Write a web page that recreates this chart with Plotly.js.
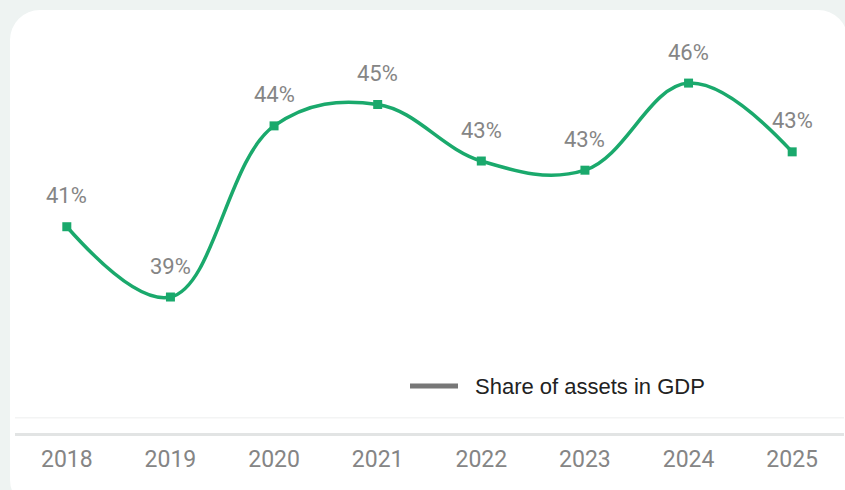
<!DOCTYPE html>
<html>
<head>
<meta charset="utf-8">
<script src="https://cdn.plot.ly/plotly-3.0.1.min.js"></script>
<style>
  html, body { margin: 0; padding: 0; background: #eef3f2; width: 845px; height: 490px; overflow: hidden; }
  #card { position: absolute; left: 10px; top: 10px; width: 838px; height: 500px; background: #ffffff; border-radius: 30px; }
  #chart { position: absolute; left: 0; top: 0; width: 845px; height: 490px; }
</style>
</head>
<body>
<div id="card"></div>
<div id="chart"></div>
<script>
// Data
const years = [2018, 2019, 2020, 2021, 2022, 2023, 2024, 2025];
const shareValues = [41.3, 39.0, 44.6, 45.3, 43.45, 43.15, 46.0, 43.75];
const shareLabels = ["41%", "39%", "44%", "45%", "43%", "43%", "46%", "43%"];
const seriesName = "Share of assets in GDP";

const green = "#1aa96c";

const mainTrace = {
  type: "scatter",
  mode: "lines+markers",
  x: years,
  y: shareValues,
  line: { shape: "spline", smoothing: 1.1, color: green, width: 3.5 },
  marker: { symbol: "square", size: 9, color: green },
  showlegend: false,
  hoverinfo: "skip"
};

const labelAnnotations = years.map((yr, i) => ({
  x: yr, y: shareValues[i], xref: "x", yref: "y",
  text: shareLabels[i], showarrow: false, yshift: 31,
  font: { family: "Roboto, Inter, 'Liberation Sans', sans-serif", size: 22, color: "#858585" }
}));

const layout = {
  width: 845, height: 490,
  paper_bgcolor: "rgba(0,0,0,0)",
  plot_bgcolor: "rgba(0,0,0,0)",
  margin: { l: 15, r: 1, t: 40, b: 57 },
  showlegend: false,
  xaxis: {
    type: "linear",
    range: [2017.5, 2025.5],
    tickvals: years,
    ticktext: years.map(String),
    showgrid: false, zeroline: false,
    showline: true, linecolor: "#e2e4e4", linewidth: 3,
    ticks: "", ticklabelstandoff: 3,
    tickfont: { family: "Roboto, Inter, 'Liberation Sans', sans-serif", size: 23, color: "#858585" },
    fixedrange: true
  },
  yaxis: {
    range: [34.55, 47.41],
    showgrid: false, zeroline: false, showline: false,
    showticklabels: false, ticks: "",
    fixedrange: true
  },
  shapes: [
    { type: "line", xref: "paper", yref: "y", x0: 0, x1: 1, y0: 35.05, y1: 35.05,
      line: { color: "#f3f4f4", width: 1.5 } },
    { type: "line", xref: "paper", yref: "paper", x0: 395 / 829, x1: 443 / 829,
      y0: (433 - 386) / 393, y1: (433 - 386) / 393,
      line: { color: "#777777", width: 5 } }
  ],
  annotations: labelAnnotations.concat([
    { xref: "paper", yref: "paper", x: 458 / 829, y: (433 - 386) / 393,
      xanchor: "left", yanchor: "middle", showarrow: false,
      text: seriesName,
      font: { family: "'Liberation Sans', Arial, sans-serif", size: 22, color: "#222222" } }
  ])
};

Plotly.newPlot("chart", [mainTrace], layout, { displayModeBar: false, staticPlot: true });
</script>
</body>
</html>
